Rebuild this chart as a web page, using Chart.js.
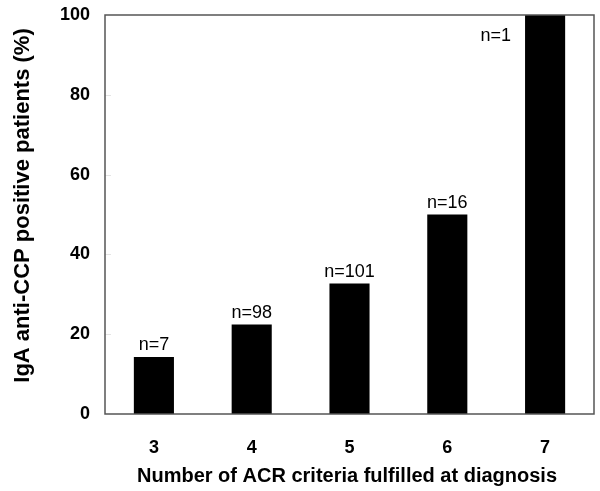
<!DOCTYPE html>
<html>
<head>
<meta charset="utf-8">
<script src="https://cdn.jsdelivr.net/npm/chart.js@4/dist/chart.umd.min.js"></script>
<style>
  html, body { margin: 0; padding: 0; background: #fff; }
  #wrap { width: 600px; height: 491px; position: relative; }
</style>
</head>
<body>
<div id="wrap"><canvas id="c" width="600" height="491"></canvas></div>
<script>
// Data
const categories = ["3", "4", "5", "6", "7"];
const positivePct = [14.3, 22.4, 32.7, 50, 100];
const nLabels = ["n=7", "n=98", "n=101", "n=16", "n=1"];
const yTicks = [0, 20, 40, 60, 80, 100];
const xTitle = "Number of ACR criteria fulfilled at diagnosis";
const yTitle = "IgA anti-CCP positive patients (%)";

const FONT = "'Liberation Sans', Arial, Helvetica, sans-serif";

const annotatePlugin = {
  id: 'annotate',
  afterDatasetsDraw(chart) {
    const ctx = chart.ctx;
    const area = chart.chartArea;
    const meta = chart.getDatasetMeta(0);
    const yScale = chart.scales.y;
    ctx.save();
    // faint inner tick marks
    ctx.strokeStyle = '#e4e4e4';
    ctx.lineWidth = 1;
    yScale.ticks.forEach(t => {
      if (t.value <= 0 || t.value >= 100) return;
      const y = Math.round(yScale.getPixelForValue(t.value)) + 0.5;
      ctx.beginPath();
      ctx.moveTo(area.left, y);
      ctx.lineTo(area.left + 6, y);
      ctx.stroke();
    });
    ctx.fillStyle = '#000';
    ctx.font = "18px " + FONT;
    meta.data.forEach((bar, i) => {
      const props = bar.getProps(['x', 'y', 'width'], true);
      if (positivePct[i] >= 100) {
        ctx.textAlign = 'right';
        ctx.textBaseline = 'middle';
        ctx.fillText(nLabels[i], props.x - props.width / 2 - 14, area.top + 21);
      } else {
        ctx.textAlign = 'center';
        ctx.textBaseline = 'alphabetic';
        ctx.fillText(nLabels[i], props.x, props.y - 7);
      }
    });
    // full frame around plot
    ctx.strokeStyle = '#555';
    ctx.lineWidth = 1.5;
    ctx.strokeRect(area.left, area.top, area.right - area.left, area.bottom - area.top);
    // axis titles
    ctx.font = "bold 20px " + FONT;
    ctx.textAlign = 'center';
    ctx.textBaseline = 'alphabetic';
    ctx.fillText(xTitle, 347, 482);
    ctx.save();
    ctx.translate(29, 205.5);
    ctx.rotate(-Math.PI / 2);
    ctx.font = "bold 22px " + FONT;
    ctx.fillText(yTitle, 0, 0);
    ctx.restore();
    ctx.restore();
  }
};

new Chart(document.getElementById('c'), {
  type: 'bar',
  data: {
    labels: categories,
    datasets: [{
      data: positivePct,
      backgroundColor: '#000',
      borderWidth: 0,
      barPercentage: 0.41,
      categoryPercentage: 1.0
    }]
  },
  options: {
    responsive: false,
    animation: false,
    devicePixelRatio: 1,
    layout: { padding: { left: 0, right: 6, top: 15, bottom: 0 } },
    plugins: { legend: { display: false }, tooltip: { enabled: false }, title: { display: false } },
    scales: {
      x: {
        grid: { display: false, drawTicks: false },
        border: { display: false },
        ticks: { color: '#000', font: { family: FONT, size: 18, weight: 'bold' }, padding: 23, maxRotation: 0 },
        afterFit(scale) { scale.height = 77; }
      },
      y: {
        min: 0, max: 100,
        afterBuildTicks(scale) { scale.ticks = yTicks.map(v => ({ value: v })); },
        grid: { display: false, drawTicks: false },
        border: { display: false },
        ticks: { color: '#000', font: { family: FONT, size: 18, weight: 'bold', lineHeight: 0.5 }, padding: 15 },
        afterFit(scale) { scale.width = 105; scale.paddingTop = 0; scale.paddingBottom = 0; }
      }
    }
  },
  plugins: [annotatePlugin]
});
</script>
</body>
</html>
